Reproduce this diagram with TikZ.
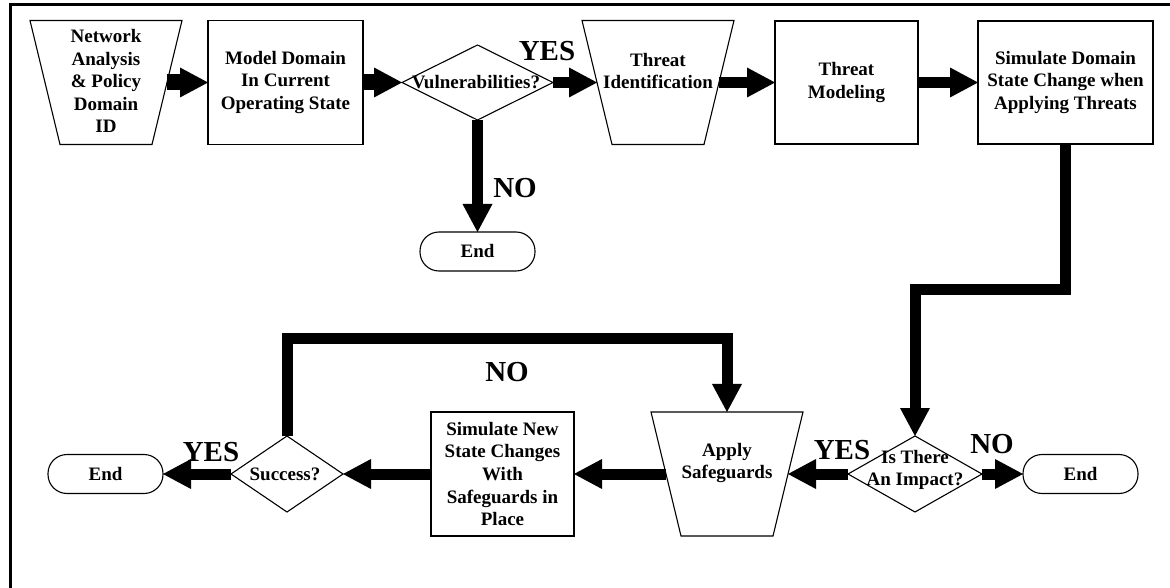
\documentclass[tikz,border=0pt]{standalone}
\usepackage{fontspec}
\setmainfont{Liberation Serif}
\usetikzlibrary{arrows.meta,shapes.geometric}

\begin{document}
\begin{tikzpicture}[x=1pt,y=-1pt,
  txt/.style={font=\bfseries\fontsize{19}{22.5}\selectfont, align=center, inner sep=0pt},
  lbl/.style={font=\bfseries\fontsize{29}{30}\selectfont, inner sep=0pt},
  shp/.style={draw, line width=1.1pt, fill=white, inner sep=0pt, outer sep=0pt},
  proc/.style={shp, rectangle, txt},
  trap/.style={shp, trapezium, trapezium angle=76.4, shape border rotate=180,
    inner xsep=46pt, inner ysep=62pt},
  decision/.style={shp, diamond},
  term/.style={shp, rectangle, rounded corners=19pt, minimum width=115pt,
    minimum height=39pt, txt},
  flow/.style={line width=11pt, line join=miter,
    -{Triangle[length=28pt,width=30pt,line width=0pt]}},
  flowbig/.style={flow, line width=16pt}
]
\useasboundingbox (0,0) rectangle (1170,588);
% frame (top and left only)
\draw[line width=3pt] (10,588) -- (10,5) -- (1170,5);

% top row
\node[trap] (net) at (106,82.5) {};
\node[txt] (netT) at (106,81) {Network\\Analysis\\\& Policy\\Domain\\ID};
\node[proc, minimum width=155pt, minimum height=124pt] (model) at (285.5,82.5)
  {Model Domain\\In Current\\Operating State};
\node[decision, minimum width=151pt, minimum height=75pt] (vuln) at (477.5,82.5) {};
\node[txt] (vulnT) at (476,82.5) {Vulnerabilities?};
\node[trap] (tid) at (658,82.5) {};
\node[txt] (tidT) at (658,71) {Threat\\Identification};
\node[proc, minimum width=143pt, minimum height=123pt] (tmod) at (846.5,82.5)
  {Threat\\Modeling};
\node[proc, minimum width=175pt, minimum height=123pt] (sim) at (1065.5,82.5)
  {Simulate Domain\\State Change when\\Applying Threats};
\node[term] (endA) at (477.5,251.5) {End};

% bottom row
\node[decision, minimum width=134pt, minimum height=76pt] (imp) at (915,474) {};
\node[txt] (impT) at (915,470) {Is There\\An Impact?};
\node[term] (endR) at (1080.5,474) {End};
\node[trap] (app) at (727,474) {};
\node[txt] (appT) at (727,463) {Apply\\Safeguards};
\node[proc, font=\bfseries\fontsize{19}{22.7}\selectfont, minimum width=143pt,
  minimum height=124pt] (simn) at (502.5,474)
  {Simulate New\\State Changes\\With\\Safeguards in\\Place};
\node[decision, minimum width=112pt, minimum height=76pt] (suc) at (287,474) {};
\node[txt] (sucT) at (285,474) {Success?};
\node[term] (endL) at (105.5,474) {End};

% labels
\node[lbl] (yes1) at (547,51) {YES};
\node[lbl] (no1) at (515,188) {NO};
\node[lbl] (yes2) at (842,450) {YES};
\node[lbl] (no2) at (992,444) {NO};
\node[lbl] (no3) at (507,372) {NO};
\node[lbl] (yes3) at (211,452) {YES};

% connectors
\coordinate (turn) at (915,289);
\coordinate (loopc) at (500,338);
\draw[flowbig] (net.east) -- (model.west);
\draw[flowbig] (model.east) -- (vuln.west);
\draw[flow] (vuln.east) -- (tid.west);
\draw[flow] (tid.east) -- (tmod.west);
\draw[flow] (tmod.east) -- (sim.west);
\draw[flow] (vuln.south) -- (endA.north);
\draw[flow] (sim.south) |- (turn) -- (imp.north);
\draw[flow] (imp.west) -- (app.east);
\draw[flow] (imp.east) -- (endR.west);
\draw[flow] (app.west) -- (simn.east);
\draw[flow] (simn.west) -- (suc.east);
\draw[flow] (suc.west) -- (endL.east);
\draw[flow] (suc.north) |- (loopc) -| (app.north);
\end{tikzpicture}
\end{document}
